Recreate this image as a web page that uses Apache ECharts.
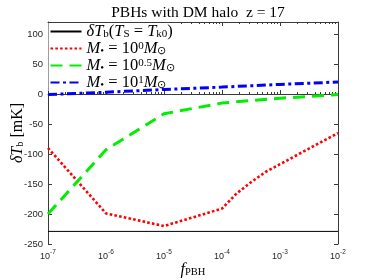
<!DOCTYPE html>
<html><head><meta charset="utf-8">
<script src="https://cdn.jsdelivr.net/npm/echarts@6/dist/echarts.min.js"></script>
<style>html,body{margin:0;padding:0;background:#fff}#c{width:374px;height:280px}</style>
</head><body><div id="c"></div>
<script>
// ---- data ----
const fDecades = [1e-7, 1e-6, 1e-5, 1e-4, 1e-3, 1e-2];
const blackVals = [-229, -229, -229, -229, -229, -229];
const redF = [1e-7, 1e-6, 1e-5, 1e-4, 1.778e-4, 3.162e-4, 5.623e-4, 1e-3, 1.778e-3, 3.162e-3, 5.623e-3, 1e-2];
const redVals = [-90, -199, -220, -191, -166, -147, -130, -117, -104, -91, -78, -65];
const greenVals = [-200, -93, -33, -15, -7, -1];
const blueVals = [-1, 3, 7.5, 11.5, 16, 20];
const minorTickVals = [];
[-7, -6, -5, -4, -3].forEach(e => { for (let k = 2; k <= 9; k++) minorTickVals.push(k * Math.pow(10, e)); });
const seriesNames = ['black', 'red', 'green', 'blue'];

const pair = (xs, ys) => xs.map((x, i) => [x, ys[i]]);
const AX = '#3a3a3a';
const serif = 'Liberation Serif';
const legendRich = {
  i: { fontFamily: serif, fontStyle: 'italic', fontSize: 16.5, color: '#000', lineHeight: 16 },
  n: { fontFamily: serif, fontSize: 16.5, color: '#000', lineHeight: 16 },
  sub: { fontFamily: serif, fontSize: 11, color: '#000', lineHeight: 16, verticalAlign: 'bottom', padding: [5.5, 0, 0, 0] },
  sup: { fontFamily: serif, fontSize: 11, color: '#000', lineHeight: 16, verticalAlign: 'top', padding: [0, 0, 5.5, 0] }
};
const legendText = {
  black: '{i|δT}{sub|b}{n|(}{i|T}{sub|S}{n| = }{i|T}{sub|k0}{n|)}',
  red: '{i|M}{sub|•}{n| = 10}{sup|0}{i|M}{sub|⊙}',
  green: '{i|M}{sub|•}{n| = 10}{sup|0.5}{i|M}{sub|⊙}',
  blue: '{i|M}{sub|•}{n| = 10}{sup|1}{i|M}{sub|⊙}'
};

const baseX = { type: 'log', logBase: 10, min: 1e-7, max: 1e-2, gridIndex: 0, splitLine: { show: false } };
const chart = echarts.init(document.getElementById('c'), null, { renderer: 'canvas' });
chart.setOption({
  animation: false,
  backgroundColor: '#fff',
  title: {
    text: 'PBHs with DM halo  z = 17', left: 193, top: 0, textAlign: 'center',
    textStyle: { fontFamily: serif, fontWeight: 'normal', fontSize: 15.5, color: '#000' }
  },
  grid: { left: 48, right: 36, top: 22, bottom: 36, containLabel: false, outerBoundsMode: 'none' },
  legend: {
    orient: 'vertical', left: 48.5, top: 23, padding: [0, 4, 0, 1], z: 1,
    itemWidth: 31, itemHeight: 10, itemGap: 0, itemTextGap: 2,
    backgroundColor: '#fff',
    itemStyle: { opacity: 0 },
    data: seriesNames,
    formatter: n => legendText[n],
    textStyle: { rich: legendRich }
  },
  xAxis: [
    Object.assign({}, baseX, {
      position: 'bottom',
      axisLine: { show: true, lineStyle: { color: AX, width: 1 } },
      axisTick: { show: true, inside: true, length: 4, lineStyle: { color: AX } },
      axisLabel: {
        margin: 5,
        formatter: v => '{b|10}{s|' + Math.round(Math.log10(v)) + '}',
        rich: {
          b: { fontFamily: 'Liberation Sans', fontSize: 9, color: '#262626', lineHeight: 12, verticalAlign: 'bottom' },
          s: { fontFamily: 'Liberation Sans', fontSize: 6.5, color: '#262626', lineHeight: 12, verticalAlign: 'top' }
        }
      },
      name: '{i|f}{s|PBH}', nameLocation: 'middle', nameGap: 17, nameMoveOverlap: false,
      nameTextStyle: { rich: {
        i: { fontFamily: serif, fontStyle: 'italic', fontSize: 16, color: '#000' },
        s: { fontFamily: serif, fontSize: 10.5, color: '#000', verticalAlign: 'bottom', padding: [6, 0, 0, 0] }
      } }
    }),
    Object.assign({}, baseX, {
      position: 'bottom', axisLine: { show: false }, axisLabel: { show: false },
      axisTick: { show: true, inside: true, length: 2, customValues: minorTickVals, lineStyle: { color: AX } }
    }),
    Object.assign({}, baseX, {
      position: 'top', axisLine: { show: true, lineStyle: { color: AX, width: 1 } }, axisLabel: { show: false },
      axisTick: { show: true, inside: true, length: 4, lineStyle: { color: AX } }
    }),
    Object.assign({}, baseX, {
      position: 'top', axisLine: { show: false }, axisLabel: { show: false },
      axisTick: { show: true, inside: true, length: 2, customValues: minorTickVals, lineStyle: { color: AX } }
    })
  ],
  yAxis: [
    {
      type: 'value', min: -250, max: 120, interval: 50, position: 'left',
      splitLine: { show: false },
      axisLine: { show: true, lineStyle: { color: AX, width: 1 } },
      axisTick: { show: true, inside: true, length: 4, lineStyle: { color: AX } },
      axisLabel: { margin: 5, fontFamily: 'Liberation Sans', fontSize: 9.5, color: '#262626', showMaxLabel: false },
      name: '{i|δT}{s|b}{n| [mK]}', nameLocation: 'middle', nameGap: 22, nameMoveOverlap: false,
      nameTextStyle: { rich: {
        i: { fontFamily: serif, fontStyle: 'italic', fontSize: 16, color: '#000' },
        n: { fontFamily: serif, fontSize: 16, color: '#000' },
        s: { fontFamily: serif, fontSize: 10.5, color: '#000', verticalAlign: 'bottom', padding: [6, 0, 0, 0] }
      } }
    },
    {
      type: 'value', min: -250, max: 120, interval: 50, position: 'right',
      splitLine: { show: false },
      axisLine: { show: true, lineStyle: { color: AX, width: 1 } },
      axisTick: { show: true, inside: true, length: 4, lineStyle: { color: AX } },
      axisLabel: { show: false }
    }
  ],
  series: [
    { name: 'black', type: 'line', symbol: 'none', data: pair(fDecades, blackVals),
      lineStyle: { color: '#000', width: 1 }, itemStyle: { color: '#000' }, z: 3 },
    { name: 'red', type: 'line', symbol: 'none', data: pair(redF, redVals),
      lineStyle: { color: '#ff0000', width: 2.6, type: [2.6, 2.2] }, itemStyle: { color: '#ff0000' } },
    { name: 'green', type: 'line', symbol: 'none', data: pair(fDecades, greenVals),
      lineStyle: { color: '#00ee00', width: 3, type: [12, 7] }, itemStyle: { color: '#00ee00' } },
    { name: 'blue', type: 'line', symbol: 'none', data: pair(fDecades, blueVals),
      lineStyle: { color: '#0000ff', width: 3, type: [9, 3.5, 3, 3.5] }, itemStyle: { color: '#0000ff' } }
  ]
});
</script>
</body></html>
